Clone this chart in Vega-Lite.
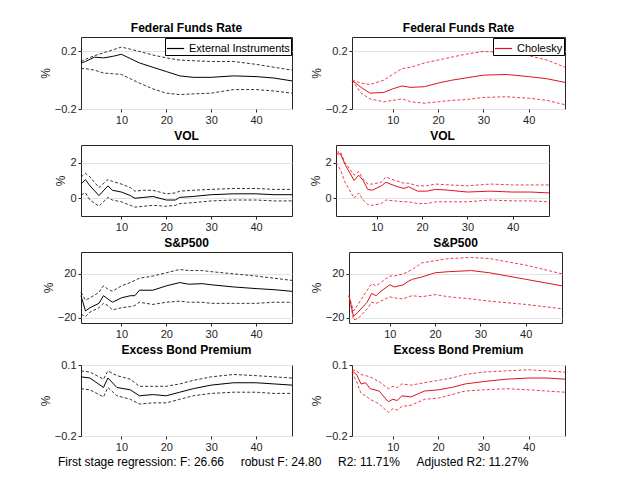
{
  "$schema": "https://vega.github.io/schema/vega-lite/v6.json",
  "background": "white",
  "padding": {"left": 38, "top": 21, "right": 10, "bottom": 4},
  "config": {
    "font": "Liberation Sans",
    "view": {"stroke": "#262626", "strokeWidth": 1},
    "title": {"fontSize": 12, "fontWeight": "bold", "color": "#000", "offset": 2},
    "axis": {"labelFontSize": 11, "labelColor": "#262626", "titleFontSize": 12, "titleFontWeight": "normal", "titleColor": "#262626", "domain": false, "tickColor": "#262626", "tickSize": 3, "ticks": true, "labelPadding": 2, "labelOverlap": false},
    "axisY": {"gridColor": "#e3e3e3", "titlePadding": 2},
    "axisX": {"grid": false},
    "concat": {"spacing": 0}
  },
  "datasets": {
    "irf": [
      {"p":"ffr_ei","h":1,"v":0.12,"lo":0.08,"hi":0.13},{"p":"ffr_ei","h":2,"v":0.13,"lo":0.08,"hi":0.145},{"p":"ffr_ei","h":4,"v":0.16,"lo":0.07,"hi":0.17},{"p":"ffr_ei","h":6,"v":0.155,"lo":0.05,"hi":0.19},{"p":"ffr_ei","h":8,"v":0.165,"lo":0.045,"hi":0.21},{"p":"ffr_ei","h":10,"v":0.18,"lo":0.04,"hi":0.23},{"p":"ffr_ei","h":12,"v":0.15,"lo":0.01,"hi":0.215},{"p":"ffr_ei","h":14,"v":0.12,"lo":-0.02,"hi":0.2},{"p":"ffr_ei","h":17,"v":0.09,"lo":-0.06,"hi":0.175},{"p":"ffr_ei","h":20,"v":0.06,"lo":-0.09,"hi":0.155},{"p":"ffr_ei","h":23,"v":0.03,"lo":-0.1,"hi":0.14},{"p":"ffr_ei","h":26,"v":0.02,"lo":-0.095,"hi":0.135},{"p":"ffr_ei","h":30,"v":0.02,"lo":-0.09,"hi":0.13},{"p":"ffr_ei","h":35,"v":0.03,"lo":-0.065,"hi":0.13},{"p":"ffr_ei","h":40,"v":0.025,"lo":-0.065,"hi":0.11},{"p":"ffr_ei","h":44,"v":0.015,"lo":-0.075,"hi":0.09},{"p":"ffr_ei","h":48,"v":-0.005,"lo":-0.09,"hi":0.07},

      {"p":"ffr_ch","h":1,"v":0,"lo":0,"hi":0},{"p":"ffr_ch","h":3,"v":-0.05,"lo":-0.09,"hi":-0.02},{"p":"ffr_ch","h":5,"v":-0.09,"lo":-0.13,"hi":-0.03},{"p":"ffr_ch","h":8,"v":-0.085,"lo":-0.15,"hi":0},{"p":"ffr_ch","h":10,"v":-0.06,"lo":-0.14,"hi":0.04},{"p":"ffr_ch","h":12,"v":-0.04,"lo":-0.13,"hi":0.08},{"p":"ffr_ch","h":14,"v":-0.05,"lo":-0.15,"hi":0.09},{"p":"ffr_ch","h":17,"v":-0.045,"lo":-0.16,"hi":0.12},{"p":"ffr_ch","h":20,"v":-0.02,"lo":-0.15,"hi":0.14},{"p":"ffr_ch","h":23,"v":0,"lo":-0.14,"hi":0.16},{"p":"ffr_ch","h":26,"v":0.015,"lo":-0.135,"hi":0.18},{"p":"ffr_ch","h":30,"v":0.035,"lo":-0.12,"hi":0.2},{"p":"ffr_ch","h":35,"v":0.04,"lo":-0.115,"hi":0.19},{"p":"ffr_ch","h":40,"v":0.025,"lo":-0.125,"hi":0.17},{"p":"ffr_ch","h":44,"v":0.01,"lo":-0.14,"hi":0.14},{"p":"ffr_ch","h":48,"v":-0.015,"lo":-0.17,"hi":0.09},

      {"p":"vol_ei","h":1,"v":0.8,"lo":0.2,"hi":1.2},{"p":"vol_ei","h":2,"v":1.05,"lo":0.3,"hi":1.4},{"p":"vol_ei","h":3,"v":0.7,"lo":-0.1,"hi":1.2},{"p":"vol_ei","h":5,"v":0.15,"lo":-0.45,"hi":0.6},{"p":"vol_ei","h":7,"v":0.7,"lo":0.05,"hi":1.05},{"p":"vol_ei","h":8,"v":0.45,"lo":-0.1,"hi":0.95},{"p":"vol_ei","h":10,"v":0.35,"lo":-0.2,"hi":0.8},{"p":"vol_ei","h":12,"v":0.15,"lo":-0.4,"hi":0.6},{"p":"vol_ei","h":13,"v":0.0,"lo":-0.5,"hi":0.4},{"p":"vol_ei","h":15,"v":0.05,"lo":-0.45,"hi":0.45},{"p":"vol_ei","h":17,"v":0.1,"lo":-0.4,"hi":0.45},{"p":"vol_ei","h":20,"v":-0.1,"lo":-0.45,"hi":0.25},{"p":"vol_ei","h":22,"v":-0.1,"lo":-0.4,"hi":0.3},{"p":"vol_ei","h":23,"v":0.05,"lo":-0.3,"hi":0.4},{"p":"vol_ei","h":26,"v":0.1,"lo":-0.25,"hi":0.45},{"p":"vol_ei","h":30,"v":0.2,"lo":-0.15,"hi":0.5},{"p":"vol_ei","h":35,"v":0.25,"lo":-0.1,"hi":0.55},{"p":"vol_ei","h":40,"v":0.25,"lo":-0.1,"hi":0.55},{"p":"vol_ei","h":44,"v":0.2,"lo":-0.15,"hi":0.5},{"p":"vol_ei","h":48,"v":0.2,"lo":-0.15,"hi":0.5},

      {"p":"vol_ch","h":1,"v":2.5,"lo":2.0,"hi":2.6},{"p":"vol_ch","h":2,"v":2.5,"lo":1.6,"hi":2.6},{"p":"vol_ch","h":3,"v":1.9,"lo":0.9,"hi":2.0},{"p":"vol_ch","h":5,"v":1.0,"lo":0.0,"hi":1.3},{"p":"vol_ch","h":6,"v":1.3,"lo":0.3,"hi":1.5},{"p":"vol_ch","h":7,"v":1.0,"lo":-0.1,"hi":1.1},{"p":"vol_ch","h":8,"v":0.5,"lo":-0.35,"hi":0.8},{"p":"vol_ch","h":9,"v":0.45,"lo":-0.4,"hi":0.8},{"p":"vol_ch","h":11,"v":0.7,"lo":-0.3,"hi":0.9},{"p":"vol_ch","h":12,"v":0.9,"lo":-0.1,"hi":1.2},{"p":"vol_ch","h":14,"v":0.7,"lo":-0.15,"hi":1.0},{"p":"vol_ch","h":16,"v":0.55,"lo":-0.2,"hi":0.85},{"p":"vol_ch","h":17,"v":0.65,"lo":-0.2,"hi":0.85},{"p":"vol_ch","h":19,"v":0.4,"lo":-0.3,"hi":0.7},{"p":"vol_ch","h":21,"v":0.4,"lo":-0.3,"hi":0.7},{"p":"vol_ch","h":23,"v":0.5,"lo":-0.2,"hi":0.8},{"p":"vol_ch","h":26,"v":0.45,"lo":-0.2,"hi":0.75},{"p":"vol_ch","h":30,"v":0.35,"lo":-0.2,"hi":0.7},{"p":"vol_ch","h":35,"v":0.4,"lo":-0.1,"hi":0.8},{"p":"vol_ch","h":40,"v":0.35,"lo":-0.15,"hi":0.75},{"p":"vol_ch","h":44,"v":0.35,"lo":-0.15,"hi":0.75},{"p":"vol_ch","h":48,"v":0.3,"lo":-0.2,"hi":0.75},

      {"p":"sp_ei","h":1,"v":0,"lo":-17,"hi":3},{"p":"sp_ei","h":2,"v":-14,"lo":-19,"hi":-4},{"p":"sp_ei","h":3,"v":-11,"lo":-15,"hi":-2},{"p":"sp_ei","h":5,"v":-7,"lo":-11,"hi":3},{"p":"sp_ei","h":6,"v":0,"lo":-7,"hi":9},{"p":"sp_ei","h":7,"v":-3,"lo":-9,"hi":6},{"p":"sp_ei","h":8,"v":-6,"lo":-13,"hi":4},{"p":"sp_ei","h":10,"v":-2,"lo":-11,"hi":9},{"p":"sp_ei","h":12,"v":0,"lo":-10,"hi":12},{"p":"sp_ei","h":13,"v":0,"lo":-9,"hi":14},{"p":"sp_ei","h":14,"v":5,"lo":-6,"hi":16},{"p":"sp_ei","h":17,"v":5,"lo":-8,"hi":18},{"p":"sp_ei","h":20,"v":9,"lo":-6,"hi":21},{"p":"sp_ei","h":23,"v":12,"lo":-5,"hi":24},{"p":"sp_ei","h":25,"v":10.5,"lo":-6,"hi":23},{"p":"sp_ei","h":28,"v":11,"lo":-6,"hi":23},{"p":"sp_ei","h":30,"v":10,"lo":-7,"hi":22},{"p":"sp_ei","h":35,"v":8,"lo":-7,"hi":20},{"p":"sp_ei","h":40,"v":6.5,"lo":-7,"hi":18},{"p":"sp_ei","h":44,"v":5.5,"lo":-6,"hi":16},{"p":"sp_ei","h":48,"v":4,"lo":-6,"hi":14},

      {"p":"sp_ch","h":1,"v":0,"lo":0,"hi":0},{"p":"sp_ch","h":2,"v":-19,"lo":-22,"hi":-14},{"p":"sp_ch","h":3,"v":-15,"lo":-21,"hi":-8},{"p":"sp_ch","h":5,"v":-6,"lo":-12,"hi":5},{"p":"sp_ch","h":6,"v":2,"lo":-6,"hi":11},{"p":"sp_ch","h":7,"v":0,"lo":-7,"hi":9},{"p":"sp_ch","h":8,"v":4,"lo":-5,"hi":12},{"p":"sp_ch","h":10,"v":10,"lo":-1,"hi":18},{"p":"sp_ch","h":11,"v":8,"lo":-2,"hi":18},{"p":"sp_ch","h":13,"v":10,"lo":-3,"hi":20},{"p":"sp_ch","h":14,"v":13,"lo":-1,"hi":22},{"p":"sp_ch","h":15,"v":15,"lo":0,"hi":24},{"p":"sp_ch","h":17,"v":17,"lo":-1,"hi":30},{"p":"sp_ch","h":20,"v":21,"lo":1,"hi":32},{"p":"sp_ch","h":23,"v":22,"lo":-1,"hi":34},{"p":"sp_ch","h":28,"v":23,"lo":-3,"hi":35},{"p":"sp_ch","h":32,"v":21,"lo":-5,"hi":34},{"p":"sp_ch","h":40,"v":15,"lo":-8,"hi":28},{"p":"sp_ch","h":48,"v":9,"lo":-12,"hi":20},

      {"p":"ebp_ei","h":1,"v":0.05,"lo":0,"hi":0.075},{"p":"ebp_ei","h":3,"v":0.045,"lo":-0.005,"hi":0.07},{"p":"ebp_ei","h":6,"v":0.005,"lo":-0.035,"hi":0.04},{"p":"ebp_ei","h":7,"v":0.045,"lo":0.005,"hi":0.075},{"p":"ebp_ei","h":9,"v":0.005,"lo":-0.03,"hi":0.055},{"p":"ebp_ei","h":12,"v":-0.005,"lo":-0.045,"hi":0.04},{"p":"ebp_ei","h":14,"v":-0.03,"lo":-0.065,"hi":0.01},{"p":"ebp_ei","h":17,"v":-0.025,"lo":-0.06,"hi":0.01},{"p":"ebp_ei","h":20,"v":-0.03,"lo":-0.06,"hi":0.01},{"p":"ebp_ei","h":23,"v":-0.015,"lo":-0.045,"hi":0.02},{"p":"ebp_ei","h":26,"v":0,"lo":-0.03,"hi":0.035},{"p":"ebp_ei","h":30,"v":0.015,"lo":-0.02,"hi":0.05},{"p":"ebp_ei","h":35,"v":0.025,"lo":-0.015,"hi":0.06},{"p":"ebp_ei","h":40,"v":0.025,"lo":-0.015,"hi":0.055},{"p":"ebp_ei","h":44,"v":0.02,"lo":-0.02,"hi":0.05},{"p":"ebp_ei","h":48,"v":0.015,"lo":-0.02,"hi":0.045},

      {"p":"ebp_ch","h":1,"v":0.075,"lo":0.07,"hi":0.08},{"p":"ebp_ch","h":2,"v":0.06,"lo":0.03,"hi":0.075},{"p":"ebp_ch","h":3,"v":0.02,"lo":-0.02,"hi":0.06},{"p":"ebp_ch","h":4,"v":0.025,"lo":-0.03,"hi":0.055},{"p":"ebp_ch","h":5,"v":0,"lo":-0.045,"hi":0.05},{"p":"ebp_ch","h":7,"v":-0.01,"lo":-0.065,"hi":0.03},{"p":"ebp_ch","h":9,"v":-0.055,"lo":-0.1,"hi":0},{"p":"ebp_ch","h":10,"v":-0.045,"lo":-0.085,"hi":0.01},{"p":"ebp_ch","h":11,"v":-0.05,"lo":-0.09,"hi":0.005},{"p":"ebp_ch","h":12,"v":-0.03,"lo":-0.075,"hi":0.02},{"p":"ebp_ch","h":14,"v":-0.035,"lo":-0.07,"hi":0.015},{"p":"ebp_ch","h":17,"v":-0.01,"lo":-0.045,"hi":0.025},{"p":"ebp_ch","h":20,"v":-0.005,"lo":-0.04,"hi":0.035},{"p":"ebp_ch","h":23,"v":0.005,"lo":-0.025,"hi":0.045},{"p":"ebp_ch","h":26,"v":0.02,"lo":-0.01,"hi":0.06},{"p":"ebp_ch","h":30,"v":0.03,"lo":-0.005,"hi":0.07},{"p":"ebp_ch","h":35,"v":0.04,"lo":0,"hi":0.075},{"p":"ebp_ch","h":40,"v":0.045,"lo":-0.005,"hi":0.08},{"p":"ebp_ch","h":44,"v":0.045,"lo":-0.01,"hi":0.075},{"p":"ebp_ch","h":48,"v":0.04,"lo":-0.015,"hi":0.07}
    ],
    "leg": [{"m": "External Instruments", "p": "ffr_ei"}, {"m": "Cholesky", "p": "ffr_ch"}]
  },
  "title": {"text": "First stage regression: F: 26.66\u00a0\u00a0\u00a0\u00a0\u00a0robust F: 24.80\u00a0\u00a0\u00a0\u00a0\u00a0R2: 11.71%\u00a0\u00a0\u00a0\u00a0\u00a0Adjusted R2: 11.27%", "orient": "bottom", "fontSize": 12, "fontWeight": "normal", "color": "#000", "offset": 4, "anchor": "middle", "dx": -10},
  "vconcat": [
    {"hconcat": [
      {"title": "Federal Funds Rate", "width": 211, "height": 72, "data": {"name": "irf"}, "transform": [{"filter": "datum.p == 'ffr_ei'"}],
       "encoding": {"x": {"field": "h", "type": "quantitative", "scale": {"domain": [1, 48]}, "axis": {"values": [10, 20, 30, 40], "title": null}}},
       "layer": [
        {"mark": {"type": "line", "color": "#000", "strokeWidth": 1}, "encoding": {"y": {"field": "v", "type": "quantitative", "scale": {"domain": [-0.2, 0.3]}, "axis": {"values": [-0.2, 0, 0.2], "title": "%"}}}},
        {"mark": {"type": "line", "color": "#000", "strokeWidth": 0.8, "strokeDash": [3, 2]}, "encoding": {"y": {"field": "lo", "type": "quantitative"}}},
        {"mark": {"type": "line", "color": "#000", "strokeWidth": 0.8, "strokeDash": [3, 2]}, "encoding": {"y": {"field": "hi", "type": "quantitative"}}},
        {"data": {"name": "leg"}, "transform": [{"filter": "datum.p == 'ffr_ei'"}], "mark": {"type": "line", "opacity": 0}, "encoding": {"color": {"field": "m", "type": "nominal", "scale": {"range": ["#000"]}, "legend": {"orient": "top-right", "title": null, "symbolType": "stroke", "symbolSize": 300, "symbolStrokeWidth": 1.2, "labelFontSize": 11, "labelColor": "#000", "strokeColor": "#000", "fillColor": "white", "padding": 1, "offset": 1, "labelLimit": 200}}}}
       ]},
      {"title": "Federal Funds Rate", "width": 213, "height": 72, "data": {"name": "irf"}, "transform": [{"filter": "datum.p == 'ffr_ch'"}],
       "encoding": {"x": {"field": "h", "type": "quantitative", "scale": {"domain": [1, 48]}, "axis": {"values": [10, 20, 30, 40], "title": null}}},
       "layer": [
        {"mark": {"type": "line", "color": "#e3121e", "strokeWidth": 1}, "encoding": {"y": {"field": "v", "type": "quantitative", "scale": {"domain": [-0.2, 0.3]}, "axis": {"values": [-0.2, 0, 0.2], "title": "%"}}}},
        {"mark": {"type": "line", "color": "#e3121e", "strokeWidth": 0.8, "strokeDash": [3, 2]}, "encoding": {"y": {"field": "lo", "type": "quantitative"}}},
        {"mark": {"type": "line", "color": "#e3121e", "strokeWidth": 0.8, "strokeDash": [3, 2]}, "encoding": {"y": {"field": "hi", "type": "quantitative"}}},
        {"data": {"name": "leg"}, "transform": [{"filter": "datum.p == 'ffr_ch'"}], "mark": {"type": "line", "opacity": 0}, "encoding": {"color": {"field": "m", "type": "nominal", "scale": {"range": ["#e3121e"]}, "legend": {"orient": "top-right", "title": null, "symbolType": "stroke", "symbolSize": 300, "symbolStrokeWidth": 1.2, "labelFontSize": 11, "labelColor": "#000", "strokeColor": "#000", "fillColor": "white", "padding": 1, "offset": 1}}}}
       ]}
    ], "spacing": 14, "resolve": {"scale": {"color": "independent"}, "legend": {"color": "independent"}}},
    {"hconcat": [
      {"title": "VOL", "width": 211, "height": 71, "data": {"name": "irf"}, "transform": [{"filter": "datum.p == 'vol_ei'"}],
       "encoding": {"x": {"field": "h", "type": "quantitative", "scale": {"domain": [1, 48]}, "axis": {"values": [10, 20, 30, 40], "title": null}}},
       "layer": [
        {"mark": {"type": "line", "color": "#000", "strokeWidth": 1}, "encoding": {"y": {"field": "v", "type": "quantitative", "scale": {"domain": [-0.6, 2.6]}, "axis": {"values": [0, 1, 2], "title": "%"}}}},
        {"mark": {"type": "line", "color": "#000", "strokeWidth": 0.8, "strokeDash": [3, 2]}, "encoding": {"y": {"field": "lo", "type": "quantitative"}}},
        {"mark": {"type": "line", "color": "#000", "strokeWidth": 0.8, "strokeDash": [3, 2]}, "encoding": {"y": {"field": "hi", "type": "quantitative"}}}
       ]},
      {"title": "VOL", "width": 213, "height": 71, "data": {"name": "irf"}, "transform": [{"filter": "datum.p == 'vol_ch'"}],
       "encoding": {"x": {"field": "h", "type": "quantitative", "scale": {"domain": [1, 48]}, "axis": {"values": [10, 20, 30, 40], "title": null}}},
       "layer": [
        {"mark": {"type": "line", "color": "#e3121e", "strokeWidth": 1}, "encoding": {"y": {"field": "v", "type": "quantitative", "scale": {"domain": [-0.6, 2.6]}, "axis": {"values": [0, 1, 2], "title": "%"}}}},
        {"mark": {"type": "line", "color": "#e3121e", "strokeWidth": 0.8, "strokeDash": [3, 2]}, "encoding": {"y": {"field": "lo", "type": "quantitative"}}},
        {"mark": {"type": "line", "color": "#e3121e", "strokeWidth": 0.8, "strokeDash": [3, 2]}, "encoding": {"y": {"field": "hi", "type": "quantitative"}}}
       ]}
    ], "spacing": 14},
    {"hconcat": [
      {"title": "S&P500", "width": 211, "height": 71, "data": {"name": "irf"}, "transform": [{"filter": "datum.p == 'sp_ei'"}],
       "encoding": {"x": {"field": "h", "type": "quantitative", "scale": {"domain": [1, 48]}, "axis": {"values": [10, 20, 30, 40], "title": null}}},
       "layer": [
        {"mark": {"type": "line", "color": "#000", "strokeWidth": 1}, "encoding": {"y": {"field": "v", "type": "quantitative", "scale": {"domain": [-22, 38]}, "axis": {"values": [-20, 0, 20], "title": "%"}}}},
        {"mark": {"type": "line", "color": "#000", "strokeWidth": 0.8, "strokeDash": [3, 2]}, "encoding": {"y": {"field": "lo", "type": "quantitative"}}},
        {"mark": {"type": "line", "color": "#000", "strokeWidth": 0.8, "strokeDash": [3, 2]}, "encoding": {"y": {"field": "hi", "type": "quantitative"}}}
       ]},
      {"title": "S&P500", "width": 213, "height": 71, "data": {"name": "irf"}, "transform": [{"filter": "datum.p == 'sp_ch'"}],
       "encoding": {"x": {"field": "h", "type": "quantitative", "scale": {"domain": [1, 48]}, "axis": {"values": [10, 20, 30, 40], "title": null}}},
       "layer": [
        {"mark": {"type": "line", "color": "#e3121e", "strokeWidth": 1}, "encoding": {"y": {"field": "v", "type": "quantitative", "scale": {"domain": [-22, 38]}, "axis": {"values": [-20, 0, 20], "title": "%"}}}},
        {"mark": {"type": "line", "color": "#e3121e", "strokeWidth": 0.8, "strokeDash": [3, 2]}, "encoding": {"y": {"field": "lo", "type": "quantitative"}}},
        {"mark": {"type": "line", "color": "#e3121e", "strokeWidth": 0.8, "strokeDash": [3, 2]}, "encoding": {"y": {"field": "hi", "type": "quantitative"}}}
       ]}
    ], "spacing": 14},
    {"hconcat": [
      {"title": "Excess Bond Premium", "width": 211, "height": 71, "data": {"name": "irf"}, "transform": [{"filter": "datum.p == 'ebp_ei'"}],
       "encoding": {"x": {"field": "h", "type": "quantitative", "scale": {"domain": [1, 48]}, "axis": {"values": [10, 20, 30, 40], "title": null}}},
       "layer": [
        {"mark": {"type": "line", "color": "#000", "strokeWidth": 1}, "encoding": {"y": {"field": "v", "type": "quantitative", "scale": {"domain": [-0.2, 0.1]}, "axis": {"values": [-0.2, -0.1, 0, 0.1], "title": "%"}}}},
        {"mark": {"type": "line", "color": "#000", "strokeWidth": 0.8, "strokeDash": [3, 2]}, "encoding": {"y": {"field": "lo", "type": "quantitative"}}},
        {"mark": {"type": "line", "color": "#000", "strokeWidth": 0.8, "strokeDash": [3, 2]}, "encoding": {"y": {"field": "hi", "type": "quantitative"}}}
       ]},
      {"title": "Excess Bond Premium", "width": 213, "height": 71, "data": {"name": "irf"}, "transform": [{"filter": "datum.p == 'ebp_ch'"}],
       "encoding": {"x": {"field": "h", "type": "quantitative", "scale": {"domain": [1, 48]}, "axis": {"values": [10, 20, 30, 40], "title": null}}},
       "layer": [
        {"mark": {"type": "line", "color": "#e3121e", "strokeWidth": 1}, "encoding": {"y": {"field": "v", "type": "quantitative", "scale": {"domain": [-0.2, 0.1]}, "axis": {"values": [-0.2, -0.1, 0, 0.1], "title": "%"}}}},
        {"mark": {"type": "line", "color": "#e3121e", "strokeWidth": 0.8, "strokeDash": [3, 2]}, "encoding": {"y": {"field": "lo", "type": "quantitative"}}},
        {"mark": {"type": "line", "color": "#e3121e", "strokeWidth": 0.8, "strokeDash": [3, 2]}, "encoding": {"y": {"field": "hi", "type": "quantitative"}}}
       ]}
    ], "spacing": 14}
  ],
  "spacing": 3
}
